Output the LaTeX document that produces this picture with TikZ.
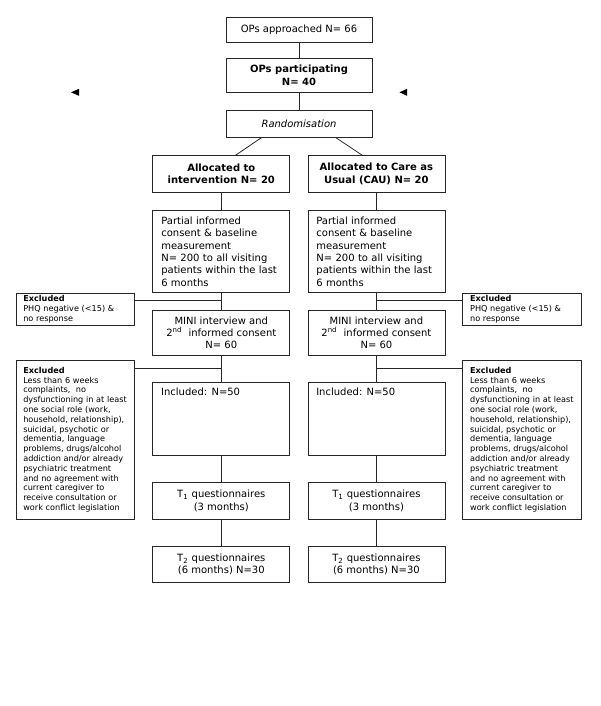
\documentclass[tikz,border=0pt]{standalone}
\usepackage{fontspec}
\setmainfont{DejaVu Sans}
\usetikzlibrary{calc}
\newcommand\fs{\fontsize{7.5}{9.25}\selectfont}
\newcommand\fss{\fontsize{6.1}{7.35}\selectfont}
\tikzset{
  bx/.style 2 args={draw=black!85, line width=0.6pt, inner sep=0pt,
    minimum width=#1*0.75pt, minimum height=#2*0.75pt, font=\fs, align=center},
  ln/.style={draw=black!85, line width=0.6pt},
  lt/.style={align=left, text width=120*0.75pt},
  ex/.style={font=\fss, align=left, text width=104*0.75pt},
}
\begin{document}
\begin{tikzpicture}[x=0.75pt,y=-0.75pt]
\useasboundingbox (0,0) rectangle (600,706);

% top column
\node[bx={146}{25}] (appr) at (299,29.8) {OPs approached N= 66};
\node[bx={146}{34}, font=\fs\bfseries] (part) at (299,75.3) {OPs participating\\N= 40};
\node[bx={146}{27.3}, font=\fs\itshape] (rand) at (299,123.7) {Randomisation};

% allocation
\node[bx={137}{36.6}, font=\fs\bfseries] (al1) at (221.3,174) {Allocated to\\intervention N= 20};
\node[bx={137}{36.6}, font=\fs\bfseries] (al2) at (376.4,174) {Allocated to Care as\\Usual (CAU) N= 20};

% partial informed consent
\node[bx={137}{81.6}, lt] (pa1) at (221.3,251.5) {Partial informed\\consent \& baseline\\measurement\\N= 200 to all visiting\\patients within the last\\6 months};
\node[bx={137}{81.6}, lt] (pa2) at (376.4,251.5) {Partial informed\\consent \& baseline\\measurement\\N= 200 to all visiting\\patients within the last\\6 months};

% MINI
\node[bx={137}{45.7}] (mi1) at (221.3,332.9) {MINI interview and\\2\textsuperscript{nd}\ \ informed consent\\N= 60};
\node[bx={137}{45.7}] (mi2) at (376.4,332.9) {MINI interview and\\2\textsuperscript{nd}\ \ informed consent\\N= 60};

% Included
\node[bx={137}{73.4}, label={[anchor=north west, inner sep=0pt, font=\fs, xshift=8.5*0.75pt, yshift=-6*0.75pt]north west:Included: N=50}] (in1) at (221.3,419) {};
\node[bx={137}{73.4}, label={[anchor=north west, inner sep=0pt, font=\fs, xshift=8.5*0.75pt, yshift=-6*0.75pt]north west:Included: N=50}] (in2) at (376.4,419) {};

% T1
\node[bx={137}{36.6}] (ta1) at (221.3,501) {T\textsubscript{1} questionnaires\\(3 months)};
\node[bx={137}{36.6}] (ta2) at (376.4,501) {T\textsubscript{1} questionnaires\\(3 months)};

% T2
\node[bx={137}{36}] (tb1) at (221.3,564.3) {T\textsubscript{2} questionnaires\\(6 months) N=30};
\node[bx={137}{36}] (tb2) at (376.4,564.3) {T\textsubscript{2} questionnaires\\(6 months) N=30};

% Excluded small
\node[bx={118.6}{31.7}, ex] (es1) at (75.3,309.2) {\textbf{Excluded}\\PHQ negative (<15) \&\\no response};
\node[bx={118.6}{31.7}, ex] (es2) at (522.1,309.2) {\textbf{Excluded}\\PHQ negative (<15) \&\\no response};

% Excluded big
\node[bx={118.6}{159.3}, ex] (eb1) at (75.3,439.7) {\textbf{Excluded}\\Less than 6 weeks\\complaints,\ \ no\\dysfunctioning in at least\\one social role (work,\\household, relationship),\\suicidal, psychotic or\\dementia, language\\problems, drugs/alcohol\\addiction and/or already\\psychiatric treatment\\and no agreement with\\current caregiver to\\receive consultation or\\work conflict legislation};
\node[bx={118.6}{159.3}, ex] (eb2) at (522.1,439.7) {\textbf{Excluded}\\Less than 6 weeks\\complaints,\ \ no\\dysfunctioning in at least\\one social role (work,\\household, relationship),\\suicidal, psychotic or\\dementia, language\\problems, drugs/alcohol\\addiction and/or already\\psychiatric treatment\\and no agreement with\\current caregiver to\\receive consultation or\\work conflict legislation};

% connectors
\draw[ln] (appr) -- (part);
\draw[ln] (part) -- (rand);
\draw[ln] ($(rand.south west)!0.243!(rand.south east)$) -- ($(al1.north west)!0.603!(al1.north east)$);
\draw[ln] ($(rand.south west)!0.752!(rand.south east)$) -- ($(al2.north west)!0.398!(al2.north east)$);
\foreach \s in {1,2}{
  \draw[ln] (al\s) -- (pa\s);
  \draw[ln] (pa\s) -- (mi\s);
  \draw[ln] (mi\s) -- (in\s);
  \draw[ln] (in\s) -- (ta\s);
  \draw[ln] (ta\s) -- (tb\s);
}
\coordinate (c1) at ($(es1.north east)+(0,7.4)$);
\draw[ln] (c1) -- (c1 -| pa1.south);
\coordinate (c2) at ($(es2.north west)+(0,7.4)$);
\draw[ln] (c2) -- (c2 -| pa2.south);
\coordinate (c3) at ($(eb1.north east)+(0,8.3)$);
\draw[ln] (c3) -- (c3 -| mi1.south);
\coordinate (c4) at ($(eb2.north west)+(0,8.3)$);
\draw[ln] (c4) -- (c4 -| mi2.south);

% stray arrowheads
\fill[black] (79,88.8) -- (71,92.3) -- (79,95.8) -- cycle;
\fill[black] (407,88.8) -- (399.5,92.3) -- (407,95.8) -- cycle;
\end{tikzpicture}
\end{document}
